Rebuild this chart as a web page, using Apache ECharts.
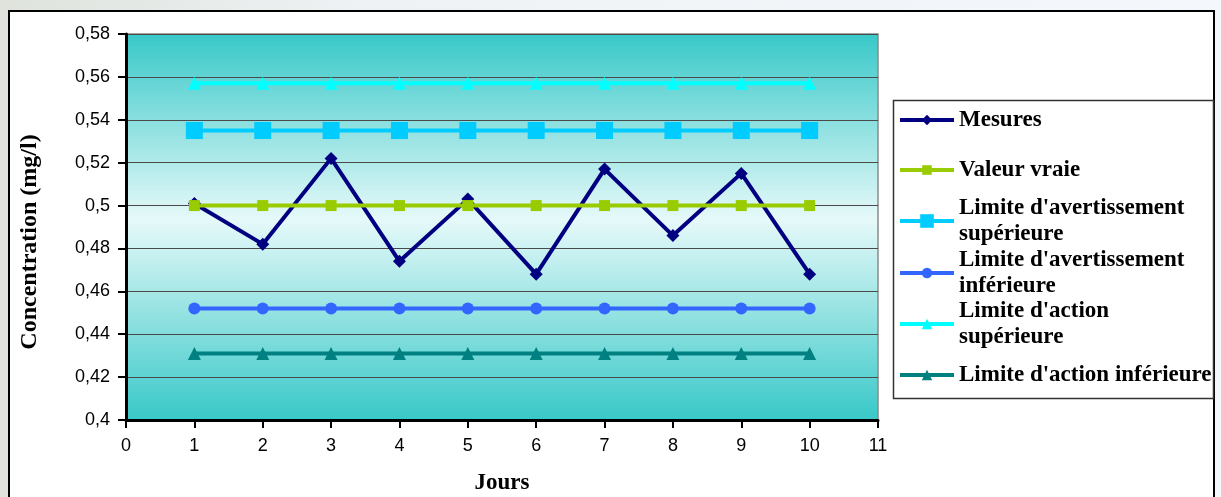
<!DOCTYPE html>
<html>
<head>
<meta charset="utf-8">
<script src="https://cdn.jsdelivr.net/npm/echarts@6/dist/echarts.min.js"></script>
<style>
html,body{margin:0;padding:0;background:linear-gradient(90deg,#dfe3dc 0%,#eef2f5 30%,#f4f7fb 100%);}
#chart{width:1221px;height:497px;}
</style>
</head>
<body>
<div id="chart"></div>
<script>
// ---- data ----
const days = [1, 2, 3, 4, 5, 6, 7, 8, 9, 10];
const mesures = [0.501, 0.482, 0.522, 0.474, 0.503, 0.468, 0.517, 0.486, 0.515, 0.468];
const valeurVraie = [0.5, 0.5, 0.5, 0.5, 0.5, 0.5, 0.5, 0.5, 0.5, 0.5];
const limAvertSup = [0.535, 0.535, 0.535, 0.535, 0.535, 0.535, 0.535, 0.535, 0.535, 0.535];
const limAvertInf = [0.452, 0.452, 0.452, 0.452, 0.452, 0.452, 0.452, 0.452, 0.452, 0.452];
const limActionSup = [0.557, 0.557, 0.557, 0.557, 0.557, 0.557, 0.557, 0.557, 0.557, 0.557];
const limActionInf = [0.431, 0.431, 0.431, 0.431, 0.431, 0.431, 0.431, 0.431, 0.431, 0.431];
const seriesNames = ["Mesures", "Valeur vraie", "Limite d'avertissement supérieure",
  "Limite d'avertissement inférieure", "Limite d'action supérieure", "Limite d'action inférieure"];
const legendLabels = ["Mesures", "Valeur vraie", "Limite d'avertissement\nsupérieure",
  "Limite d'avertissement\ninférieure", "Limite d'action\nsupérieure", "Limite d'action inférieure"];
const xAxisTitle = "Jours";
const yAxisTitle = "Concentration (mg/l)";

// ---- styling ----
const valuesList = [mesures, valeurVraie, limAvertSup, limAvertInf, limActionSup, limActionInf];
const colors = ['#000080', '#99cc00', '#00ccff', '#3366ff', '#00ffff', '#008080'];
const symbols = ['diamond', 'rect', 'rect', 'circle', 'triangle', 'triangle'];
const symbolSizes = [13, 11, 17, 12, 13, 13];
const legendIconH = [13, 12, 17, 13, 13, 13];
const legendCenters = [120, 170, 221, 273, 324, 375];

const serif = "'Liberation Serif', 'Times New Roman', serif";
const sans = "'Liberation Sans', Arial, sans-serif";

const series = seriesNames.map((name, i) => ({
  name: name,
  type: 'line',
  data: days.map((d, k) => [d, valuesList[i][k]]),
  symbol: symbols[i],
  symbolSize: symbolSizes[i],
  showSymbol: true,
  color: colors[i],
  lineStyle: { width: 4, color: colors[i] },
  itemStyle: { color: colors[i] },
  emphasis: { disabled: true },
  animation: false
}));

const legends = seriesNames.map((name, i) => {
  const twoLines = legendLabels[i].indexOf('\n') >= 0;
  return {
    data: [{ name: name, textStyle: { padding: twoLines ? [26, 0, 0, 0] : [26, 0, 26, 0] } }],
    formatter: () => legendLabels[i],
    left: 898,
    top: legendCenters[i] - 39,
    padding: 0,
    itemWidth: 54,
    itemHeight: legendIconH[i],
    itemGap: 0,
    lineStyle: { width: 4 },
    textStyle: { fontFamily: serif, fontWeight: 'bold', fontSize: 23, color: '#000', lineHeight: 26 }
  };
});

const chart = echarts.init(document.getElementById('chart'), null, { renderer: 'canvas' });
chart.setOption({
  animation: false,
  backgroundColor: 'transparent',
  graphic: [
    { type: 'rect', z: -100, shape: { x: 9, y: 11, width: 1205, height: 500 },
      style: { fill: '#ffffff', stroke: '#000', lineWidth: 2 } },
    { type: 'rect', z: -90, shape: { x: 893.5, y: 100.5, width: 320, height: 298 },
      style: { fill: '#ffffff', stroke: '#333', lineWidth: 1.5 } }
  ],
  grid: {
    left: 126, right: 343, top: 34, bottom: 77,
    containLabel: false,
    outerBoundsMode: 'none',
    show: true,
    borderColor: '#8a8a8a', borderWidth: 1.5,
    backgroundColor: new echarts.graphic.LinearGradient(0, 0, 0, 1, [
      { offset: 0, color: '#38c8c8' },
      { offset: 0.48, color: '#e6f9f9' },
      { offset: 1, color: '#38c8c8' }
    ])
  },
  legend: legends,
  xAxis: {
    type: 'value', min: 0, max: 11, interval: 1,
    name: xAxisTitle, nameLocation: 'middle', nameGap: 52,
    nameTextStyle: { fontFamily: serif, fontWeight: 'bold', fontSize: 23, color: '#000' },
    axisLine: { show: true, onZero: false, lineStyle: { color: '#000', width: 3 } },
    axisTick: { show: true, inside: false, length: 8, lineStyle: { color: '#000', width: 2 } },
    axisLabel: { margin: 17, fontFamily: sans, fontSize: 18, color: '#000' },
    splitLine: { show: false }
  },
  yAxis: {
    type: 'value', min: 0.4, max: 0.58, interval: 0.02,
    name: yAxisTitle, nameLocation: 'middle', nameGap: 84, nameRotate: 90,
    nameTextStyle: { fontFamily: serif, fontWeight: 'bold', fontSize: 24, color: '#000', padding: [0, 30, 0, 0] },
    axisLine: { show: true, onZero: false, lineStyle: { color: '#000', width: 3 } },
    axisTick: { show: true, inside: false, length: 8, lineStyle: { color: '#000', width: 2 } },
    axisLabel: { margin: 16, fontFamily: sans, fontSize: 18, color: '#000',
      formatter: v => String(parseFloat(v.toFixed(2))).replace('.', ',') },
    splitLine: { show: true, lineStyle: { color: '#4a4a4a', width: 1 } }
  },
  series: series
});
</script>
</body>
</html>
